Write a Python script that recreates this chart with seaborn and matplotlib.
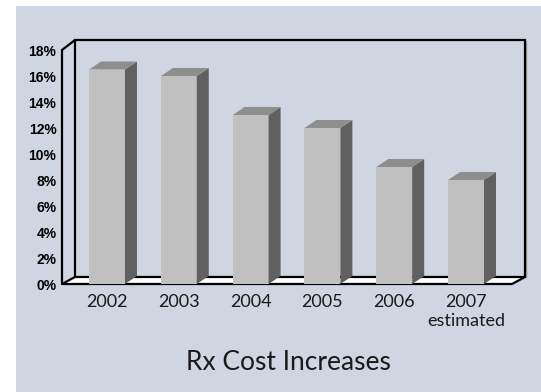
import matplotlib
matplotlib.use("Agg")
import matplotlib.pyplot as plt
from matplotlib.patches import Polygon, Rectangle
import seaborn as sns
import pandas as pd

# ---- data ----
years = ["2002", "2003", "2004", "2005", "2006", "2007\nestimated"]
increase_pct = [16.5, 16.0, 13.0, 12.0, 9.0, 8.0]
y_ticks = [0, 2, 4, 6, 8, 10, 12, 14, 16, 18]
title = "Rx Cost Increases"

df = pd.DataFrame({"year": years, "pct": increase_pct})

sns.set_theme(style="white")
plt.rcParams["font.family"] = ["Liberation Sans", "DejaVu Sans"]

W, H = 541, 392
fig = plt.figure(figsize=(W / 100, H / 100), dpi=100)
fig.patch.set_facecolor("white")
bg = "#CFD5E1"
fig.patches.append(Rectangle((16 / W, 0), 1 - 16 / W, (H - 6) / H,
                             transform=fig.transFigure, facecolor=bg,
                             edgecolor="none", zorder=-10))

# axes = front plane of the 3D box
ax = fig.add_axes([62 / W, (H - 284) / H, (512 - 62) / W, (284 - 50) / H])
ax.set_facecolor("none")

sns.barplot(data=df, x="year", y="pct", color="#C0C0C0", saturation=1,
            width=0.5, ax=ax, zorder=5, edgecolor="none")

ax.set_xlim(-0.627, 5.64)
ax.set_ylim(0, 18)
for s in ax.spines.values():
    s.set_visible(False)

# depth geometry (data units)
bx, by_top, by_bot = 0.181, 0.77, 0.54    # back wall offset
dx, dy = 0.167, 0.615                     # bar depth
x0, x1 = ax.get_xlim()
lw = 1.6

bars = list(ax.patches)

# floor
floor = Polygon([(x0, 0), (x1, 0), (x1 + bx, by_bot), (x0 + bx, by_bot)],
                closed=True, facecolor="white", edgecolor="black",
                linewidth=lw, clip_on=False, zorder=1, joinstyle="miter")
ax.add_patch(floor)
# back wall: left, top, right
ax.plot([x0 + bx, x0 + bx, x1 + bx, x1 + bx],
        [by_bot, 18 + by_top, 18 + by_top, by_bot],
        color="black", lw=lw, clip_on=False, zorder=2, solid_joinstyle="miter")
ax.plot([x1 + bx + 0.02, x1 + bx + 0.02], [by_bot, 18 + by_top - 0.1],
        color="#9A9A9A", lw=1, clip_on=False, zorder=1.5)
# front-left axis + diagonal to back
ax.plot([x0, x0, x0 + bx], [0, 18, 18 + by_top], color="black", lw=lw,
        clip_on=False, zorder=2, solid_joinstyle="miter")

# 3D faces of bars
for p in bars:
    xl = p.get_x()
    w = p.get_width()
    h = p.get_height()
    xr = xl + w
    side = Polygon([(xr, 0), (xr + dx, dy), (xr + dx, h + dy), (xr, h)],
                   closed=True, facecolor="#606060", edgecolor="none",
                   clip_on=False, zorder=5)
    top = Polygon([(xl, h), (xr, h), (xr + dx, h + dy), (xl + dx, h + dy)],
                  closed=True, facecolor="#8E8E8E", edgecolor="none",
                  clip_on=False, zorder=5)
    ax.add_patch(side)
    ax.add_patch(top)

ax.set_yticks(y_ticks)
ax.set_yticklabels([f"{t}%" for t in y_ticks], fontsize=10, fontweight="bold",
                   family=["Liberation Sans", "DejaVu Sans"], color="black")
ax.tick_params(axis="y", length=0, pad=4)
ax.tick_params(axis="x", length=0, pad=7)
for lab in ax.get_xticklabels():
    lab.set_fontfamily(["Lato", "DejaVu Sans"])
    lab.set_fontsize(13)
    lab.set_linespacing(1.25)
    lab.set_color("#1A1A1A")
ax.set_xlabel("")
ax.set_ylabel("")

fig.text(288 / W, (H - 362) / H, title, ha="center", va="center",
         fontsize=19, family=["Lato", "DejaVu Sans"], color="#1A1A1A")

fig.savefig("out.png", dpi=100)
